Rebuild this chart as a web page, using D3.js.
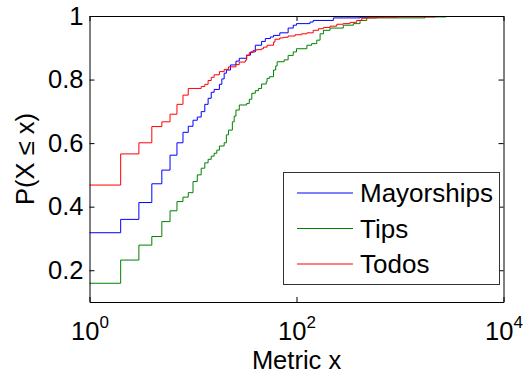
<!DOCTYPE html>
<html>
<head>
<meta charset="utf-8">
<script src="https://cdn.jsdelivr.net/npm/d3@7"></script>
<style>
    html, body { margin: 0; padding: 0; background: #fff; }
    #chart { width: 528px; height: 376px; }
    text { font-family: "Liberation Sans", Arial, sans-serif; fill: #000; }
</style>
</head>
<body>
<div id="chart"></div>
<script>
// Data (CDF)
const seriesNames = ['Mayorships', 'Tips', 'Todos'];
const seriesColors = ['#0000ff', '#008000', '#ff0000'];

const mayorshipsX = [1, 2, 3, 4, 5, 6, 7, 8, 9, 10, 11, 12, 13, 14, 15, 16, 18, 19, 20, 21, 23, 26, 28, 33,
    36, 40, 46, 50, 56, 60, 69, 83, 93, 100, 135, 145, 227, 411, 505, 716];
const mayorshipsY = [0.318, 0.36, 0.413, 0.472, 0.515, 0.562, 0.601, 0.634, 0.653, 0.672, 0.682, 0.699, 0.722,
    0.741, 0.760, 0.769, 0.785, 0.802, 0.820, 0.830, 0.846, 0.858, 0.867, 0.877,
    0.887, 0.908, 0.92, 0.929, 0.934, 0.939, 0.947, 0.962, 0.971, 0.976, 0.981, 0.986, 0.994, 0.996, 0.997, 1];

const tipsX = [1, 2, 3, 4, 5, 6, 7, 8, 9, 10, 11, 12, 13, 14, 15, 16, 17, 18,
    20, 21, 22, 24, 25, 26, 28, 33, 35, 37, 40, 43, 46, 51, 52, 55, 60, 63, 65, 76, 83, 93, 100,
    126, 140, 157, 169, 182, 211, 283, 354, 411, 477, 1745, 2800];
const tipsY = [0.159, 0.232, 0.279, 0.306, 0.353, 0.387, 0.416, 0.43, 0.444, 0.479, 0.5, 0.521, 0.538, 0.549, 0.559, 0.568, 0.578, 0.591,
    0.601, 0.626, 0.641, 0.667, 0.685, 0.704, 0.72, 0.725, 0.738, 0.757, 0.765, 0.772, 0.786, 0.793, 0.804, 0.809, 0.83, 0.843, 0.856, 0.862, 0.876, 0.887, 0.897,
    0.908, 0.913, 0.924, 0.944, 0.955, 0.962, 0.971, 0.976, 0.986, 0.994, 0.997, 1];

const todosX = [1, 2, 3, 4, 5, 6, 7, 8, 9, 12, 13, 14, 15, 16, 18, 20, 22,
    26, 28, 32, 33, 35, 38, 41, 46, 48, 52, 60, 62, 69, 75, 83, 97, 112, 126, 145, 163,
    182, 211, 245, 283, 329, 382, 427, 477, 596, 957, 2178];
const todosY = [0.468, 0.566, 0.601, 0.652, 0.667, 0.691, 0.722, 0.751, 0.772, 0.778, 0.785, 0.797, 0.807, 0.815, 0.825, 0.832, 0.84,
    0.847, 0.855, 0.861, 0.876, 0.885, 0.892, 0.894, 0.897, 0.902, 0.908, 0.918, 0.927, 0.931, 0.933, 0.937, 0.941, 0.944, 0.947, 0.955, 0.96,
    0.964, 0.968, 0.974, 0.976, 0.98, 0.986, 0.993, 0.994, 0.996, 0.997, 1];

const xTicks = [1, 100, 10000];
const yTicks = [0.2, 0.4, 0.6, 0.8, 1];
const xLabel = 'Metric x';
const yLabel = 'P(X \u2264 x)';

const series = [
    { name: seriesNames[0], color: seriesColors[0], points: d3.zip(mayorshipsX, mayorshipsY) },
    { name: seriesNames[1], color: seriesColors[1], points: d3.zip(tipsX, tipsY) },
    { name: seriesNames[2], color: seriesColors[2], points: d3.zip(todosX, todosY) }
];

// Layout
const width = 528, height = 376;
const plotLeft = 89.5, plotRight = 503.5, plotTop = 16, plotBottom = 302;

const x = d3.scaleLog().domain([1, 10000]).range([plotLeft, plotRight]);
const y = d3.scaleLinear().domain([0.1, 1]).range([plotBottom, plotTop]);

const svg = d3.select('#chart').append('svg')
    .attr('width', width)
    .attr('height', height);

// lines
const line = d3.line()
    .curve(d3.curveStepAfter)
    .x(d => x(d[0]))
    .y(d => y(d[1]));

svg.append('g')
    .selectAll('path')
    .data(series)
    .join('path')
    .attr('fill', 'none')
    .attr('stroke', d => d.color)
    .attr('stroke-width', 1)
    .attr('d', d => line(d.points));

// axes
const fontSize = 25.5;

const xAxis = svg.append('g')
    .attr('transform', `translate(0,${plotBottom})`)
    .call(d3.axisBottom(x).tickValues(xTicks).tickSizeInner(-5).tickSizeOuter(0).tickPadding(14));

xAxis.selectAll('.tick text')
    .attr('font-size', fontSize)
    .attr('dy', '0.95em')
    .text('10')
    .append('tspan')
    .attr('font-size', 17)
    .attr('dy', '-0.72em')
    .text(d => Math.round(Math.log10(d)));

svg.append('g')
    .attr('transform', `translate(0,${plotTop})`)
    .call(d3.axisTop(x).tickValues(xTicks).tickSizeInner(-5).tickSizeOuter(0).tickFormat(''));

const yAxis = svg.append('g')
    .attr('transform', `translate(${plotLeft},0)`)
    .call(d3.axisLeft(y).tickValues(yTicks).tickSizeInner(-5).tickSizeOuter(0).tickPadding(6).tickFormat(d3.format('')));

yAxis.selectAll('.tick text')
    .attr('font-size', fontSize);

svg.append('g')
    .attr('transform', `translate(${plotRight},0)`)
    .call(d3.axisRight(y).tickValues(yTicks).tickSizeInner(-5).tickSizeOuter(0).tickFormat(''));

svg.selectAll('.domain, .tick line').attr('stroke', '#000');

// axis labels
svg.append('text')
    .attr('x', (plotLeft + plotRight) / 2)
    .attr('y', 369)
    .attr('text-anchor', 'middle')
    .attr('font-size', fontSize)
    .text(xLabel);

svg.append('text')
    .attr('transform', `translate(34,${(plotTop + plotBottom) / 2}) rotate(-90)`)
    .attr('text-anchor', 'middle')
    .attr('font-size', fontSize)
    .text(yLabel);

// legend
const legend = svg.append('g').attr('class', 'legend');

legend.append('rect')
    .attr('x', 283.5)
    .attr('y', 172.5)
    .attr('width', 216)
    .attr('height', 112)
    .attr('fill', '#fff')
    .attr('stroke', '#333');

const rows = legend.selectAll('g')
    .data(series)
    .join('g')
    .attr('transform', (d, i) => `translate(0,${193 + i * 35.5})`);

rows.append('line')
    .attr('x1', 297)
    .attr('x2', 353)
    .attr('stroke', d => d.color);

rows.append('text')
    .attr('x', 360)
    .attr('y', 9)
    .attr('font-size', 26)
    .text(d => d.name);
</script>
</body>
</html>
